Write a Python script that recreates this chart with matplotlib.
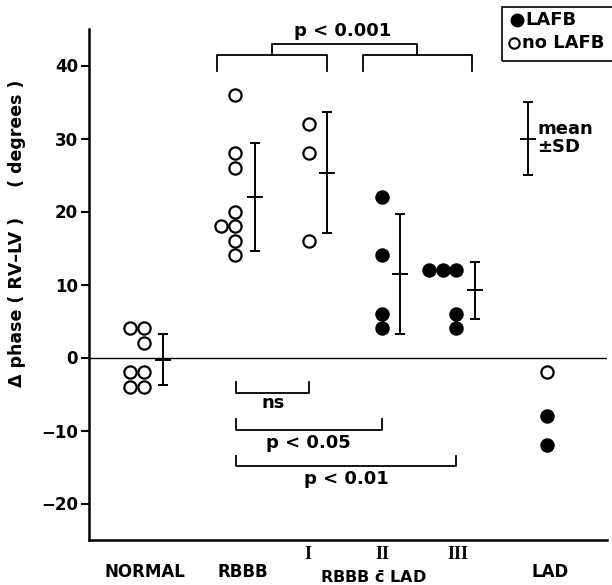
import numpy as np
import matplotlib.pyplot as plt
from matplotlib.lines import Line2D
from matplotlib.patches import Rectangle

plt.rcParams['font.family'] = ['DejaVu Sans']
plt.rcParams['font.weight'] = 'bold'
plt.rcParams['mathtext.default'] = 'bf'

# data (degrees)
normal_vals = [4, 4, 2, -2, -2, -4, -4]
rbbb_vals = [36, 28, 26, 20, 18, 18, 16, 14]
lad1_vals = [32, 28, 16]
lad2_vals = [22, 14, 6, 4]
lad3_vals = [12, 12, 12, 6, 4]
lad_vals = [-2, -8, -12]

# True = LAFB (filled), False = no LAFB (open)
normal_lafb = [False] * 7
rbbb_lafb = [False] * 8
lad1_lafb = [False] * 3
lad2_lafb = [True] * 4
lad3_lafb = [True] * 5
lad_lafb = [False, True, True]

cat_labels = ['NORMAL', 'RBBB', 'I', 'II', 'III', 'LAD']

# layout: x of point column, column offsets, x of mean/SD bar
step = 0.265
groups = [
    (normal_vals, normal_lafb, 0.80, [0, 1, 1, 0, 1, 0, 1], 1.43),
    (rbbb_vals, rbbb_lafb, 2.82, [0, 0, 0, 0, -1, 0, 0, 0], 3.20),
    (lad1_vals, lad1_lafb, 4.25, [0, 0, 0], 4.59),
    (lad2_vals, lad2_lafb, 5.66, [0, 0, 0, 0], 6.00),
    (lad3_vals, lad3_lafb, 6.56, [0, 1, 2, 2, 2], 7.45),
    (lad_vals, lad_lafb, 8.84, [0, 0, 0], None),
]
label_x = [1.08, 2.97, 4.23, 5.66, 7.12, 8.90]

fig = plt.figure(figsize=(6.12, 5.85), dpi=100)
ax = fig.add_axes([89/612, 1 - 540/585, 518/612, 511/585])
ax.set_xlim(0, 10)
ax.set_ylim(-25, 45)

ax.axhline(0, color='black', lw=1.0, zorder=1)


def meanbar(x, m, sd):
    ax.errorbar(x, m, yerr=sd, fmt='none', ecolor='black',
                elinewidth=1.4, capsize=3.5, capthick=1.4)
    ax.plot(x, m, marker='_', ms=12, mew=1.4, color='black')


for vals, lafb, x0, cols, xbar in groups:
    for v, f, c in zip(vals, lafb, cols):
        ax.plot(x0 + c * step, v, 'o', ms=8.8, mew=1.6, mec='black',
                mfc='black' if f else 'white', zorder=3)
    if xbar is not None:
        meanbar(xbar, np.mean(vals), np.std(vals, ddof=1))

# mean +/- SD key
meanbar(8.47, 30, 5)
ax.text(8.66, 30, 'mean\n±SD', ha='left', va='center', fontsize=13,
        linespacing=1.0)


# significance brackets
def bracket(x1, x2, y, leg):
    ax.plot([x1, x1, x2, x2], [y + leg, y, y, y + leg], color='black',
            lw=1.3, clip_on=False)


bracket(2.47, 4.59, 41.4, -2.1)
bracket(5.29, 7.39, 41.4, -2.1)
bracket(3.53, 6.33, 42.9, -1.5)
ax.text(4.90, 44.7, 'p < 0.001', ha='center', va='center', fontsize=13,
        clip_on=False)

bracket(2.84, 4.25, -4.9, 1.5)
ax.text(3.55, -6.2, 'ns', ha='center', va='center', fontsize=13)
bracket(2.84, 5.66, -9.9, 1.5)
ax.text(4.23, -11.7, 'p < 0.05', ha='center', va='center', fontsize=13)
bracket(2.84, 7.08, -14.8, 1.3)
ax.text(4.96, -16.7, 'p < 0.01', ha='center', va='center', fontsize=13)

# category labels under axis
tr = ax.get_xaxis_transform()
for lab, x in zip(cat_labels, label_x):
    if lab in ('I', 'II', 'III'):
        ax.text(x, -0.029, lab, transform=tr, ha='center', va='center',
                fontsize=13, family='Liberation Serif', fontweight='bold')
    else:
        ax.text(x, -0.062, lab, transform=tr, ha='center', va='center',
                fontsize=12)
ax.text(5.48, -0.073, r'RBBB $\bar{c}$ LAD', transform=tr,
        ha='center', va='center', fontsize=11.5)

# axes styling
ax.spines['top'].set_visible(False)
ax.spines['right'].set_visible(False)
ax.spines['left'].set_linewidth(1.8)
ax.spines['bottom'].set_linewidth(1.8)
ax.set_yticks([-20, -10, 0, 10, 20, 30, 40])
ax.set_yticklabels(['−20', '−10', '0', '10', '20', '30', '40'],
                   fontsize=12, fontweight='bold')
ax.tick_params(axis='y', direction='out', length=6, width=1.5, pad=2)
ax.set_xticks([])

fig.text(17/612, 1 - 233/585, 'Δ phase ( RV–LV )     ( degrees )',
         rotation=90, ha='center', va='center', fontsize=12.5)

# LAFB key box
fig.add_artist(Rectangle((502/612, 1 - 61/585), 120/612, 54/585,
                         transform=fig.transFigure, fill=False,
                         lw=1.2, ec='black'))
fig.add_artist(Line2D([517/612], [1 - 20/585], marker='o', ms=9,
                      mfc='black', mec='black', transform=fig.transFigure))
fig.add_artist(Line2D([514/612], [1 - 43/585], marker='o', ms=7.5, mew=1.5,
                      mfc='white', mec='black', transform=fig.transFigure))
fig.text(525/612, 1 - 20/585, 'LAFB', ha='left', va='center', fontsize=13)
fig.text(522/612, 1 - 43/585, 'no LAFB', ha='left', va='center',
         fontsize=13)

fig.savefig('out.png', dpi=100)
